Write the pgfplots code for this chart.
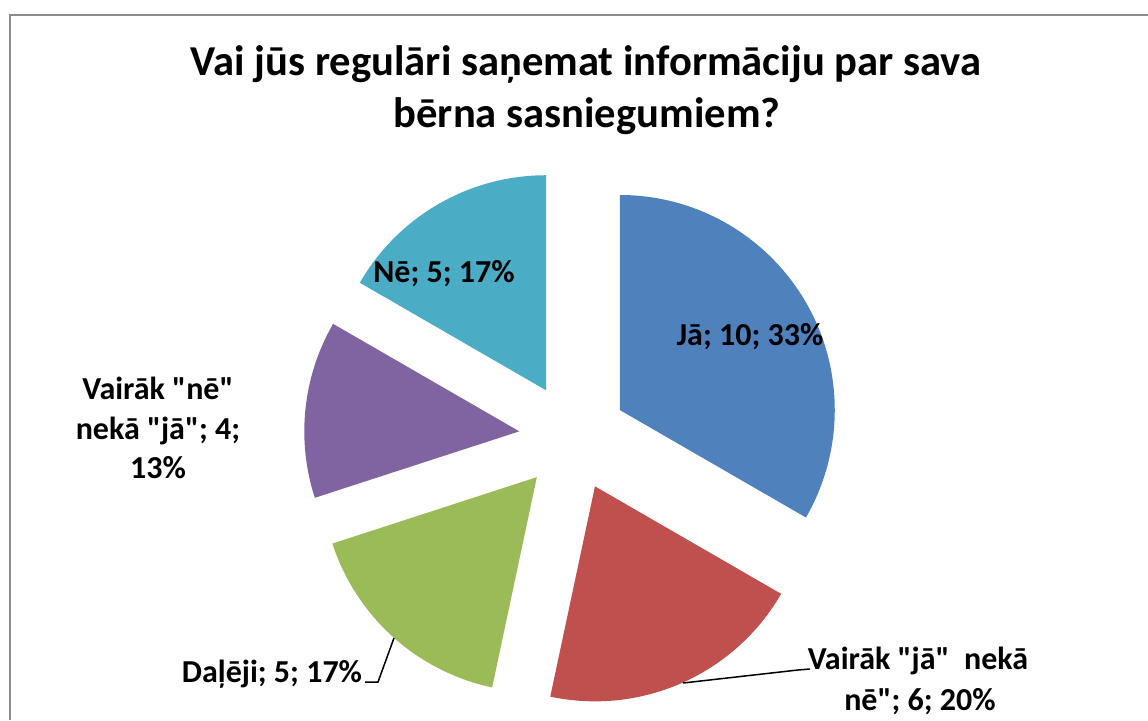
\documentclass[border=0pt]{standalone}
\usepackage{pgfplots}
\pgfplotsset{compat=1.18}
\usepackage{pgfplotstable}
\usepackage{fontspec}
\setmainfont{Carlito}[Ligatures=TeXOff]
\definecolor{c1}{HTML}{4F81BD}
\definecolor{c2}{HTML}{C0504D}
\definecolor{c3}{HTML}{9BBB59}
\definecolor{c4}{HTML}{8064A2}
\definecolor{c5}{HTML}{4BACC6}
\definecolor{frame}{HTML}{8C8C8C}
\def\q{\char34{}}
\tikzset{
  lbl/.style={font=\bfseries\fontsize{16}{19}\selectfont, anchor=base, inner sep=0pt},
  ttl/.style={font=\bfseries\fontsize{21.3}{26}\selectfont, anchor=base, inner sep=0pt},
}
\pgfplotstableread{
value color
10 c1
6 c2
5 c3
4 c4
5 c5
}\piedata
\begin{document}
\begin{tikzpicture}
\begin{axis}[
  x=0.5pt, y=0.5pt,
  xmin=0, xmax=1148, ymin=0, ymax=720,
  hide axis, clip=false,
  anchor=origin, at={(0,0)},
]
% frame (left and top edges visible)
\draw[frame, line width=1pt] (axis cs:9.5,0) -- (axis cs:9.5,705.5) -- (axis cs:1148,705.5);
% pie
\def\total{0}
\pgfplotsforeachungrouped \i in {0,...,4}{%
  \pgfplotstablegetelem{\i}{value}\of\piedata
  \pgfmathsetmacro\total{\total+\pgfplotsretval}%
}
\def\cum{0}
\pgfplotsforeachungrouped \i in {0,...,4}{%
  \pgfplotstablegetelem{\i}{value}\of\piedata \let\v\pgfplotsretval
  \pgfplotstablegetelem{\i}{color}\of\piedata \let\col\pgfplotsretval
  \pgfmathsetmacro\aA{90-360*\cum/\total}%
  \pgfmathsetmacro\cum{\cum+\v}%
  \pgfmathsetmacro\aB{90-360*\cum/\total}%
  \pgfmathsetmacro\mid{(\aA+\aB)/2}%
  \pgfmathsetmacro\ox{573+54*cos(\mid)}%
  \pgfmathsetmacro\oy{283+54*sin(\mid)}%
  \edef\temp{\noexpand\fill[\col] (axis cs:\ox,\oy) -- ++(\aA:107.5pt) arc[start angle=\aA, end angle=\aB, radius=107.5pt] -- cycle;}%
  \temp
}
% title
\node[ttl] at (axis cs:586,645) {Vai jūs regulāri saņemat informāciju par sava};
\node[ttl] at (axis cs:587,593) {bērna sasniegumiem?};
% labels
\node[lbl] at (axis cs:750,375) {Jā; 10; 33\%};
\node[lbl] at (axis cs:444,438) {Nē; 5; 17\%};
\node[lbl] at (axis cs:158,321) {Vairāk \q nē\q};
\node[lbl] at (axis cs:158,281) {nekā \q jā\q; 4;};
\node[lbl] at (axis cs:158,242) {13\%};
\node[lbl] at (axis cs:272,38) {Daļēji; 5; 17\%};
\node[lbl] at (axis cs:918,51) {Vairāk \q jā\q{}\ \ nekā};
\node[lbl] at (axis cs:920,10) {nē\q; 6; 20\%};
% leader lines
\draw[black, line width=0.75pt] (axis cs:365,38) -- (axis cs:378,38) -- (axis cs:394,82);
\draw[black, line width=0.75pt] (axis cs:810,51) -- (axis cs:798,50) -- (axis cs:683,37);
\end{axis}
\pgfresetboundingbox
\useasboundingbox (0,0) rectangle (574pt,360pt);
\end{tikzpicture}
\end{document}
